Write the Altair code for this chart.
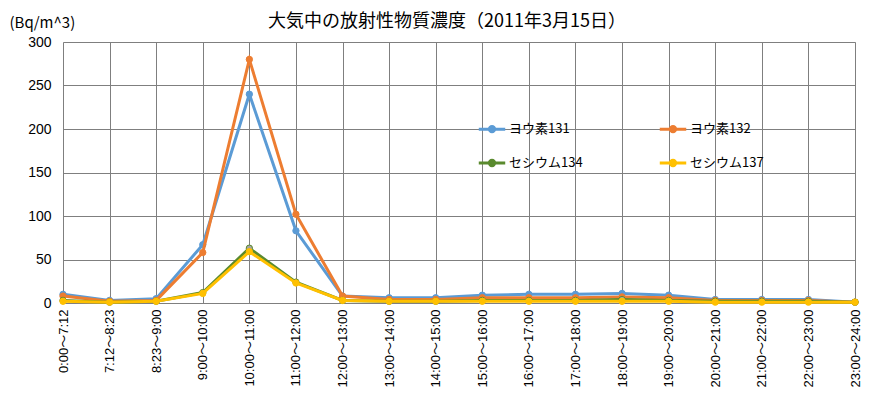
import altair as alt
import pandas as pd

categories = ["0:00～7:12", "7:12～8:23", "8:23～9:00", "9:00～10:00", "10:00～11:00",
              "11:00～12:00", "12:00～13:00", "13:00～14:00", "14:00～15:00", "15:00～16:00",
              "16:00～17:00", "17:00～18:00", "18:00～19:00", "19:00～20:00", "20:00～21:00",
              "21:00～22:00", "22:00～23:00", "23:00～24:00"]
series_names = ["ヨウ素131", "ヨウ素132", "セシウム134", "セシウム137"]
i131 = [10, 3, 5, 67, 240, 83, 8, 6, 6, 9, 10, 10, 11, 9, 4, 4, 4, 1]
i132 = [8, 2, 3, 58, 280, 102, 8, 4, 4, 6, 6, 6, 7, 6, 3, 3, 3, 1]
cs134 = [3, 1, 2, 12, 63, 24, 3, 2, 2, 3, 3, 3, 4, 3, 2, 2, 2, 1]
cs137 = [2, 1, 2, 11, 59, 23, 3, 2, 2, 2, 2, 2, 2, 2, 1, 1, 1, 1]
line_colors = ["#5B9BD5", "#ED7D31", "#5A8A2E", "#FFC000"]
marker_colors = ["#5B9BD5", "#ED7D31", "#A5A5A5", "#FFC000"]

# legend fills column-major: order so rows read (131,132) / (134,137)
legend_order = [0, 2, 1, 3]
dom = [series_names[i] for i in legend_order]
line_rng = [line_colors[i] for i in legend_order]
mark_rng = [marker_colors[i] for i in legend_order]

rows = []
for name, vals in zip(series_names, [i131, i132, cs134, cs137]):
    for c, v in zip(categories, vals):
        rows.append({"time": c, "value": v, "series": name})
df = pd.DataFrame(rows)

FONT = "Noto Sans CJK JP"
LFONT = "Liberation Sans, Noto Sans CJK JP"
SYM = "M-1,0H1M-0.2,0A0.2,0.2 0 1,0 0.2,0A0.2,0.2 0 1,0 -0.2,0Z"

x = alt.X("time:N", sort=categories, title=None,
          scale=alt.Scale(type="point", padding=0),
          axis=alt.Axis(labelAngle=-90, labelAlign="right", labelBaseline="middle",
                        labelFontSize=13, labelColor="#000", grid=True, gridColor="#7f7f7f",
                        gridWidth=1, domain=False, ticks=False, labelPadding=6,
                        labelFont=LFONT))
y = alt.Y("value:Q", title="(Bq/m^3)",
          scale=alt.Scale(domain=[0, 300], nice=False),
          axis=alt.Axis(values=[0, 50, 100, 150, 200, 250, 300], grid=True,
                        gridColor="#7f7f7f", gridWidth=1, domain=False, ticks=False,
                        labelFontSize=14, labelColor="#000", labelPadding=12, labelFont=LFONT,
                        titleAngle=0, titleX=-54, titleY=-15, titleAlign="left",
                        titleBaseline="alphabetic", titleFontSize=15, titleFontWeight="normal",
                        titleFont=FONT, titleColor="#000"))

leg = dict(title=None, orient="none", legendX=414, legendY=72,
           columns=2, columnPadding=70, rowPadding=10,
           labelFontSize=13, labelFont=FONT, labelColor="#000",
           symbolType=SYM, symbolSize=700, symbolStrokeWidth=3, labelOffset=2)
stroke_enc = alt.Stroke("series:N", scale=alt.Scale(domain=dom, range=line_rng),
                        legend=alt.Legend(**leg))
fill_enc = alt.Fill("series:N", scale=alt.Scale(domain=dom, range=mark_rng),
                    legend=alt.Legend(**leg))

layers = []
for name in series_names:
    sub = df[df.series == name]
    layers.append(alt.Chart(sub).mark_line(strokeWidth=3).encode(x=x, y=y, stroke=stroke_enc))
    layers.append(alt.Chart(sub).mark_point(filled=True, size=40, opacity=1, strokeWidth=1).encode(
        x=x, y=y, fill=fill_enc, stroke=stroke_enc))

chart = alt.layer(*layers).properties(
    width=792, height=261,
    autosize=alt.AutoSizeParams(type="none"),
    padding={"left": 55, "top": 34, "right": 27, "bottom": 85},
    title=alt.TitleParams("大気中の放射性物質濃度（2011年3月15日）", fontSize=18,
                          font=FONT, fontWeight="normal", color="#000", anchor="middle",
                          frame="group", offset=-16, dx=-12),
).configure_view(stroke=None).configure(background="white")

chart.save("out.html", embed_options={"renderer": "svg", "actions": False})
